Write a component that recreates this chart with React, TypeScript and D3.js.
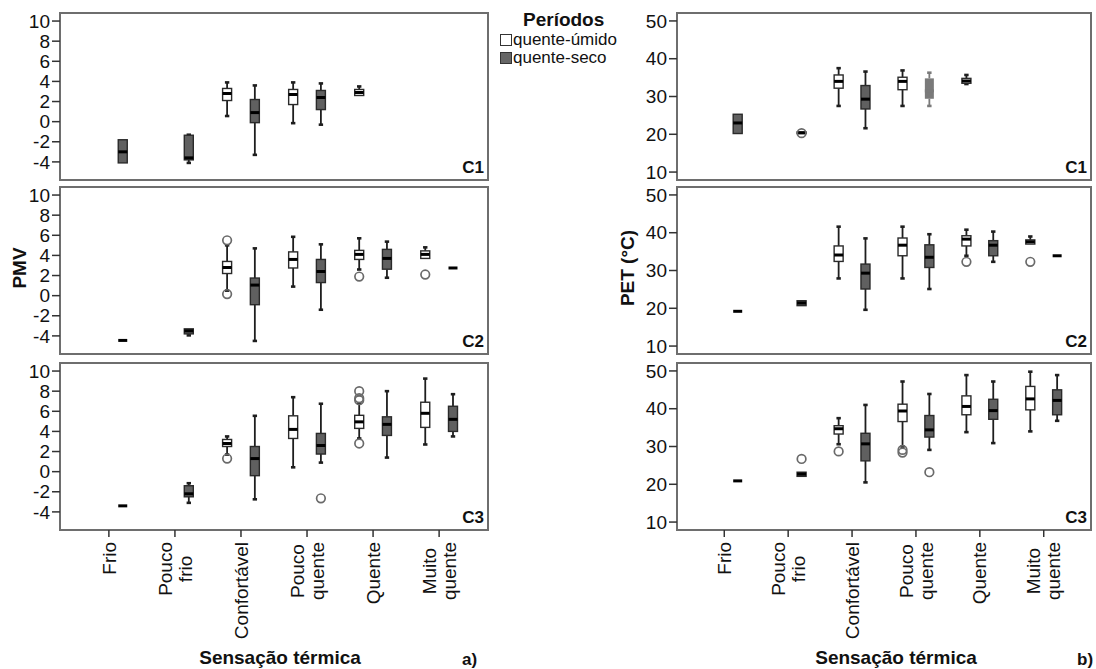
import React from "react";
import * as d3 from "d3";

type Box = { cat: string; per: "u" | "s"; lo: number; q1: number; med: number; q3: number; hi: number; out?: number[] };

const categories = ["Frio", "Pouco frio", "Confortável", "Pouco quente", "Quente", "Muito quente"];
const categoryLines = [["Frio"], ["Pouco", "frio"], ["Confortável"], ["Pouco", "quente"], ["Quente"], ["Muito", "quente"]];
const periods = ["quente-úmido", "quente-seco"];
const panelNames = ["C1", "C2", "C3"];
const pmvTicks = [-4, -2, 0, 2, 4, 6, 8, 10];
const petTicks = [10, 20, 30, 40, 50];

const pmvC1: Box[] = [
  { cat: "Frio", per: "s", lo: -4.1, q1: -4.1, med: -3.0, q3: -1.8, hi: -1.8 },
  { cat: "Pouco frio", per: "s", lo: -4.1, q1: -3.8, med: -3.6, q3: -1.35, hi: -1.3 },
  { cat: "Confortável", per: "u", lo: 0.56, q1: 2.1, med: 2.8, q3: 3.3, hi: 3.9 },
  { cat: "Confortável", per: "s", lo: -3.3, q1: -0.1, med: 0.9, q3: 2.2, hi: 3.6 },
  { cat: "Pouco quente", per: "u", lo: -0.15, q1: 1.7, med: 2.7, q3: 3.2, hi: 3.9 },
  { cat: "Pouco quente", per: "s", lo: -0.3, q1: 1.2, med: 2.4, q3: 3.1, hi: 3.8 },
  { cat: "Quente", per: "u", lo: 2.6, q1: 2.6, med: 2.9, q3: 3.2, hi: 3.5 },
];
const pmvC2: Box[] = [
  { cat: "Frio", per: "s", lo: -4.45, q1: -4.45, med: -4.45, q3: -4.45, hi: -4.45 },
  { cat: "Pouco frio", per: "s", lo: -3.95, q1: -3.8, med: -3.5, q3: -3.3, hi: -3.3 },
  { cat: "Confortável", per: "u", lo: 0.5, q1: 2.2, med: 2.8, q3: 3.4, hi: 5.0, out: [5.5, 0.16] },
  { cat: "Confortável", per: "s", lo: -4.5, q1: -0.9, med: 1.05, q3: 1.75, hi: 4.7 },
  { cat: "Pouco quente", per: "u", lo: 0.9, q1: 2.75, med: 3.6, q3: 4.35, hi: 5.85 },
  { cat: "Pouco quente", per: "s", lo: -1.4, q1: 1.3, med: 2.4, q3: 3.6, hi: 5.1 },
  { cat: "Quente", per: "u", lo: 2.6, q1: 3.6, med: 4.1, q3: 4.5, hi: 5.7, out: [1.9] },
  { cat: "Quente", per: "s", lo: 1.78, q1: 2.63, med: 3.7, q3: 4.6, hi: 5.37 },
  { cat: "Muito quente", per: "u", lo: 3.7, q1: 3.7, med: 4.1, q3: 4.45, hi: 4.8, out: [2.1] },
  { cat: "Muito quente", per: "s", lo: 2.75, q1: 2.75, med: 2.75, q3: 2.75, hi: 2.75 },
];
const pmvC3: Box[] = [
  { cat: "Frio", per: "s", lo: -3.4, q1: -3.4, med: -3.4, q3: -3.4, hi: -3.4 },
  { cat: "Pouco frio", per: "s", lo: -3.1, q1: -2.5, med: -2.2, q3: -1.4, hi: -1.15 },
  { cat: "Confortável", per: "u", lo: 1.7, q1: 2.5, med: 2.8, q3: 3.2, hi: 3.5, out: [1.3] },
  { cat: "Confortável", per: "s", lo: -2.75, q1: -0.4, med: 1.3, q3: 2.5, hi: 5.55 },
  { cat: "Pouco quente", per: "u", lo: 0.43, q1: 3.3, med: 4.2, q3: 5.55, hi: 7.4 },
  { cat: "Pouco quente", per: "s", lo: 0.9, q1: 1.75, med: 2.6, q3: 3.8, hi: 6.75, out: [-2.65] },
  { cat: "Quente", per: "u", lo: 3.3, q1: 4.3, med: 4.95, q3: 5.6, hi: 6.8, out: [8.0, 7.3, 7.1, 2.8] },
  { cat: "Quente", per: "s", lo: 1.4, q1: 3.6, med: 4.7, q3: 5.45, hi: 8.0 },
  { cat: "Muito quente", per: "u", lo: 2.7, q1: 4.4, med: 5.8, q3: 6.9, hi: 9.25 },
  { cat: "Muito quente", per: "s", lo: 3.5, q1: 4.0, med: 5.2, q3: 6.5, hi: 7.7 },
];
const petC1: Box[] = [
  { cat: "Frio", per: "s", lo: 20.2, q1: 20.2, med: 23.0, q3: 25.3, hi: 25.3 },
  { cat: "Pouco frio", per: "s", lo: 20.2, q1: 20.2, med: 20.4, q3: 20.6, hi: 20.6, out: [20.3] },
  { cat: "Confortável", per: "u", lo: 27.5, q1: 32.2, med: 34.0, q3: 35.7, hi: 37.5 },
  { cat: "Confortável", per: "s", lo: 21.6, q1: 26.7, med: 29.3, q3: 32.9, hi: 36.6 },
  { cat: "Pouco quente", per: "u", lo: 27.5, q1: 31.8, med: 34.0, q3: 35.1, hi: 36.9 },
  { cat: "Pouco quente", per: "s", lo: 27.5, q1: 29.4, med: 31.5, q3: 34.8, hi: 36.3 },
  { cat: "Quente", per: "u", lo: 33.3, q1: 33.5, med: 34.1, q3: 34.8, hi: 35.7 },
];
const petC2: Box[] = [
  { cat: "Frio", per: "s", lo: 19.2, q1: 19.2, med: 19.2, q3: 19.2, hi: 19.2 },
  { cat: "Pouco frio", per: "s", lo: 20.7, q1: 20.7, med: 21.4, q3: 22.0, hi: 22.0 },
  { cat: "Confortável", per: "u", lo: 27.9, q1: 32.4, med: 34.1, q3: 36.5, hi: 41.6 },
  { cat: "Confortável", per: "s", lo: 19.6, q1: 25.1, med: 29.3, q3: 31.7, hi: 38.5 },
  { cat: "Pouco quente", per: "u", lo: 27.9, q1: 33.9, med: 36.7, q3: 38.6, hi: 41.6 },
  { cat: "Pouco quente", per: "s", lo: 25.1, q1: 30.8, med: 33.5, q3: 36.8, hi: 39.6 },
  { cat: "Quente", per: "u", lo: 33.9, q1: 36.5, med: 38.3, q3: 39.2, hi: 40.8, out: [32.3] },
  { cat: "Quente", per: "s", lo: 32.3, q1: 33.9, med: 36.7, q3: 37.9, hi: 40.3 },
  { cat: "Muito quente", per: "u", lo: 37.0, q1: 37.0, med: 37.6, q3: 38.1, hi: 39.0, out: [32.3] },
  { cat: "Muito quente", per: "s", lo: 33.9, q1: 33.9, med: 33.9, q3: 33.9, hi: 33.9 },
];
const petC3: Box[] = [
  { cat: "Frio", per: "s", lo: 20.9, q1: 20.9, med: 20.9, q3: 20.9, hi: 20.9 },
  { cat: "Pouco frio", per: "s", lo: 22.1, q1: 22.1, med: 22.7, q3: 23.2, hi: 23.2, out: [26.7] },
  { cat: "Confortável", per: "u", lo: 30.6, q1: 33.3, med: 34.7, q3: 35.5, hi: 37.5, out: [28.7] },
  { cat: "Confortável", per: "s", lo: 20.5, q1: 26.2, med: 30.7, q3: 33.5, hi: 41.0 },
  { cat: "Pouco quente", per: "u", lo: 30.0, q1: 36.6, med: 39.4, q3: 41.2, hi: 47.2, out: [29.1, 28.4] },
  { cat: "Pouco quente", per: "s", lo: 29.1, q1: 32.5, med: 34.4, q3: 38.2, hi: 43.9, out: [23.2] },
  { cat: "Quente", per: "u", lo: 33.8, q1: 38.4, med: 40.6, q3: 43.4, hi: 48.9 },
  { cat: "Quente", per: "s", lo: 30.9, q1: 37.2, med: 39.5, q3: 42.5, hi: 47.2 },
  { cat: "Muito quente", per: "u", lo: 34.0, q1: 39.7, med: 42.6, q3: 45.9, hi: 49.8 },
  { cat: "Muito quente", per: "s", lo: 36.8, q1: 38.4, med: 42.2, q3: 45.0, hi: 48.9 },
];
// boxes drawn in a faded grey in the original figure
const fadedBoxes = ["PET-C1-Pouco quente-s"];

const FONT = "'Liberation Sans', Arial, Helvetica, sans-serif";
const TXT = "#111";
const DARK = "#606060";

let ctx: CanvasRenderingContext2D | null = null;
function measure(t: string, font: string) {
  if (!ctx) ctx = document.createElement("canvas").getContext("2d");
  if (!ctx) return t.length * 10;
  ctx.font = font;
  return ctx.measureText(t).width;
}

const panelTops = [13, 187, 363];
const panelH = 167;

type ChartProps = {
  name: string;
  x0: number;
  x1: number;
  domain: [number, number];
  ticks: number[];
  data: Box[][];
  yTitle: string;
  yTitleX: number;
  xTitleX: number;
  tag: string;
  tagX: number;
};

function Chart(p: ChartProps) {
  const xs = d3.scalePoint<string>().domain(categories).range([p.x0, p.x1]).padding(0.74);
  const off = xs.step() * 0.21;
  const bw = 9;
  const bottom = panelTops[2] + panelH;
  return (
    <g>
      {p.data.map((boxes, pi) => {
        const top = panelTops[pi];
        const y = d3.scaleLinear().domain(p.domain).range([top + panelH, top]);
        return (
          <g key={pi}>
            <rect x={p.x0} y={top} width={p.x1 - p.x0} height={panelH} fill="#fff" stroke="#6e6e6e" strokeWidth={2} />
            {p.ticks.map((t) => (
              <g key={t}>
                <line x1={p.x0 - 8} x2={p.x0} y1={y(t)} y2={y(t)} stroke="#333" strokeWidth={1.5} />
                <text x={p.x0 - 10} y={y(t)} dy="0.35em" textAnchor="end" fontSize={19} fill={TXT} fontFamily={FONT}>
                  {t}
                </text>
              </g>
            ))}
            {boxes.map((b, bi) => {
              const cx = (xs(b.cat) as number) + (b.per === "u" ? -off : off);
              const faded = fadedBoxes.includes(`${p.name}-${panelNames[pi]}-${b.cat}-${b.per}`);
              const ink = faded ? "#7a7a7a" : "#1e1e1e";
              const fill = faded ? "#7a7a7a" : b.per === "u" ? "#ffffff" : DARK;
              return (
                <g key={bi}>
                  {b.hi > b.q3 && (
                    <>
                      <line x1={cx} x2={cx} y1={y(b.hi)} y2={y(b.q3)} stroke={ink} strokeWidth={1.8} />
                      <line x1={cx - 2.2} x2={cx + 2.2} y1={y(b.hi)} y2={y(b.hi)} stroke={ink} strokeWidth={2.6} />
                    </>
                  )}
                  {b.lo < b.q1 && (
                    <>
                      <line x1={cx} x2={cx} y1={y(b.q1)} y2={y(b.lo)} stroke={ink} strokeWidth={1.8} />
                      <line x1={cx - 2.2} x2={cx + 2.2} y1={y(b.lo)} y2={y(b.lo)} stroke={ink} strokeWidth={2.6} />
                    </>
                  )}
                  {b.q3 > b.q1 && (
                    <rect
                      x={cx - bw / 2}
                      y={y(b.q3)}
                      width={bw}
                      height={y(b.q1) - y(b.q3)}
                      fill={fill}
                      stroke={faded ? "none" : "#2a2a2a"}
                      strokeWidth={1.4}
                    />
                  )}
                  <line x1={cx - bw / 2} x2={cx + bw / 2} y1={y(b.med)} y2={y(b.med)} stroke={faded ? "#7a7a7a" : "#000"} strokeWidth={3} />
                  {(b.out || []).map((o, oi) => (
                    <circle key={oi} cx={cx} cy={y(o)} r={4.3} fill="none" stroke="#6a6a6a" strokeWidth={1.7} />
                  ))}
                </g>
              );
            })}
            <text
              x={p.x1 - 4}
              y={top + panelH - 7}
              textAnchor="end"
              fontSize={17}
              fontWeight="bold"
              fill={TXT}
              fontFamily={FONT}
            >
              {panelNames[pi]}
            </text>
          </g>
        );
      })}
      {categories.map((c, ci) => {
        const tx = xs(c) as number;
        const lines = categoryLines[ci];
        const fs = 19;
        const maxW = Math.max(...lines.map((l) => measure(l, `${fs}px ${FONT}`)));
        const cy = bottom + 12 + maxW / 2;
        return (
          <g key={c}>
            <line x1={tx} x2={tx} y1={bottom} y2={bottom + 7} stroke="#333" strokeWidth={1.5} />
            {lines.map((l, li) => {
              const bx = tx + (li - (lines.length - 1) / 2) * 20 + 0.35 * fs;
              return (
                <text
                  key={li}
                  transform={`translate(${bx},${cy}) rotate(-90)`}
                  textAnchor="middle"
                  fontSize={fs}
                  fill={TXT}
                  fontFamily={FONT}
                >
                  {l}
                </text>
              );
            })}
          </g>
        );
      })}
      <text
        transform={`translate(${p.yTitleX},268) rotate(-90)`}
        dy="0.35em"
        textAnchor="middle"
        fontSize={19}
        fontWeight="bold"
        fill={TXT}
        fontFamily={FONT}
      >
        {p.yTitle}
      </text>
      <text x={p.xTitleX} y={664} textAnchor="middle" fontSize={19} fontWeight="bold" fill={TXT} fontFamily={FONT}>
        Sensação térmica
      </text>
      <text x={p.tagX} y={665} fontSize={17} fontWeight="bold" fill={TXT} fontFamily={FONT}>
        {p.tag}
      </text>
    </g>
  );
}

export default function App() {
  return (
    <svg
      width={1096}
      height={669}
      style={{ position: "absolute", left: 0, top: 0, display: "block", background: "#fff" }}
    >
      <rect width={1096} height={669} fill="#fff" />
      <Chart
        name="PMV"
        x0={60}
        x1={488}
        domain={[-5.8, 10.8]}
        ticks={pmvTicks}
        data={[pmvC1, pmvC2, pmvC3]}
        yTitle="PMV"
        yTitleX={19}
        xTitleX={280}
        tag="a)"
        tagX={462}
      />
      <Chart
        name="PET"
        x0={677}
        x1={1091}
        domain={[7.9, 52.1]}
        ticks={petTicks}
        data={[petC1, petC2, petC3]}
        yTitle="PET (°C)"
        yTitleX={627}
        xTitleX={896}
        tag="b)"
        tagX={1077}
      />
      <g fontFamily={FONT} fill={TXT}>
        <text x={523} y={26} fontSize={19} fontWeight="bold">
          Períodos
        </text>
        {periods.map((pname, i) => (
          <g key={pname}>
            <rect
              x={500.5}
              y={34.5 + i * 18}
              width={11}
              height={11}
              fill={i === 0 ? "#fff" : "#666"}
              stroke="#333"
              strokeWidth={1}
            />
            <text x={513} y={45 + i * 18} fontSize={17}>
              {pname}
            </text>
          </g>
        ))}
      </g>
    </svg>
  );
}
